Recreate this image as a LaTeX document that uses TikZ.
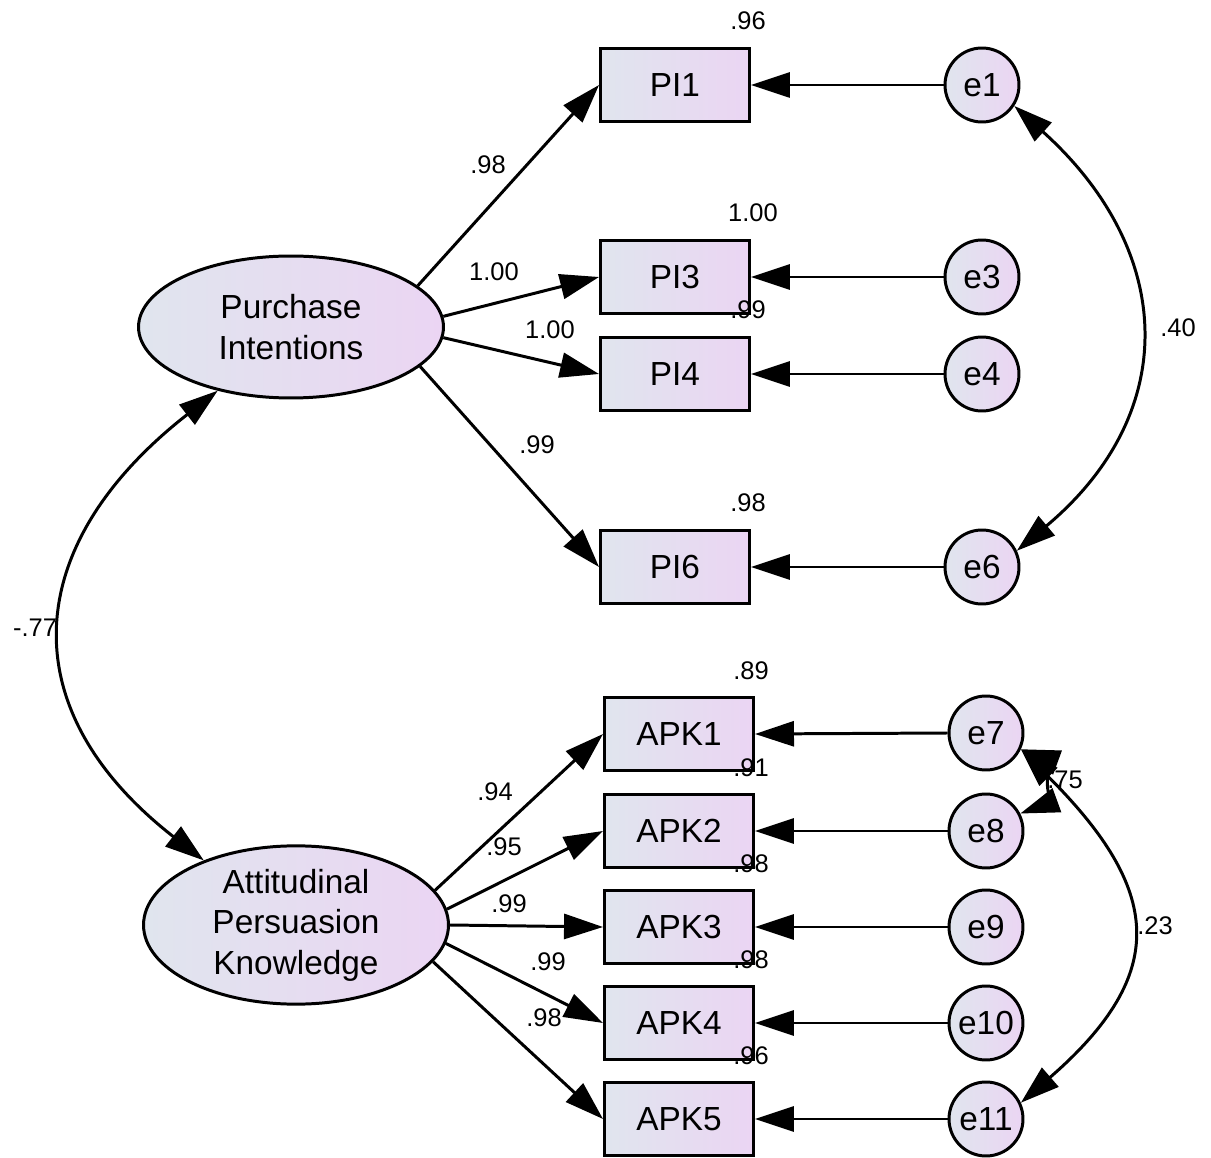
\documentclass[tikz,border=0pt]{standalone}
\usepackage{fontspec}
\setmainfont{Liberation Sans}
\usetikzlibrary{shapes.geometric,arrows.meta}

\definecolor{fillleft}{RGB}{224,229,238}
\definecolor{fillright}{RGB}{235,213,243}

\begin{document}
\begin{tikzpicture}[x=0.02cm, y=-0.02cm,
        latent/.style={draw, ellipse, line width=1.7pt, minimum width=6.1cm, minimum height=2.84cm, inner sep=0pt, align=center, left color=fillleft, right color=fillright, font=\fontsize{19}{23}\selectfont},
        observed/.style={draw, rectangle, line width=1.7pt, minimum width=2.98cm, minimum height=1.46cm, inner sep=0pt, left color=fillleft, right color=fillright, font=\fontsize{19}{23}\selectfont},
        error/.style={draw, circle, line width=1.7pt, minimum size=1.48cm, inner sep=0pt, left color=fillleft, right color=fillright, font=\fontsize{19}{23}\selectfont},
        path/.style={line width=1.7pt, -{Triangle[length=0.78cm, width=0.5cm]}},
        cov/.style={line width=1.7pt, {Triangle[length=0.78cm, width=0.5cm]}-{Triangle[length=0.78cm, width=0.5cm]}},
        est/.style={font=\fontsize{14.5}{17}\selectfont, inner sep=0pt}]

        \useasboundingbox (0,0) rectangle (1211,1158);

        % latent variables
        \node[latent] (PI) at (291,327) {Purchase\\Intentions};
        \node[latent] (APK) at (296,925) {Attitudinal\\Persuasion\\Knowledge};

        % indicators
        \node[observed] (PI1) at (675,85) {PI1};
        \node[observed] (PI3) at (675,277) {PI3};
        \node[observed] (PI4) at (675,374) {PI4};
        \node[observed] (PI6) at (675,567) {PI6};
        \node[observed] (APK1) at (679,734) {APK1};
        \node[observed] (APK2) at (679,831) {APK2};
        \node[observed] (APK3) at (679,927) {APK3};
        \node[observed] (APK4) at (679,1023) {APK4};
        \node[observed] (APK5) at (679,1119) {APK5};

        % error terms
        \node[error] (e1) at (982,85) {e1};
        \node[error] (e3) at (982,277) {e3};
        \node[error] (e4) at (982,374) {e4};
        \node[error] (e6) at (982,567) {e6};
        \node[error] (e7) at (986,733) {e7};
        \node[error] (e8) at (986,831) {e8};
        \node[error] (e9) at (986,927) {e9};
        \node[error] (e10) at (986,1023) {e10};
        \node[error] (e11) at (986,1119) {e11};

        % loadings
        \draw[path] (PI.18) -- (PI1.west);
        \draw[path] (PI.4) -- (PI3.west);
        \draw[path] (PI.-4) -- (PI4.west);
        \draw[path] (PI.-17) -- (PI6.west);
        \draw[path] (APK.14) -- (APK1.west);
        \draw[path] (APK.6) -- (APK2.west);
        \draw[path] (APK.0) -- (APK3.west);
        \draw[path] (APK.-7) -- (APK4.west);
        \draw[path] (APK.-15) -- (APK5.west);

        % errors
        \foreach \i in {1,3,4,6}
            \draw[path] (e\i.west) -- (PI\i.east);
        \draw[path] (e7.west) -- (APK1.east);
        \draw[path] (e8.west) -- (APK2.east);
        \draw[path] (e9.west) -- (APK3.east);
        \draw[path] (e10.west) -- (APK4.east);
        \draw[path] (e11.west) -- (APK5.east);

        % covariances
        \node[est] (c75) at (1065,780) {.75};
        \draw[cov] (PI.221) to[out=218, in=142, looseness=1.35] (APK.145);
        \draw[cov] (e1.-33) to[out=-42, in=40, looseness=1.24] (e6.25);
        \draw[cov] (e7.-25) to[out=-45, in=41, looseness=1.44] (e11.25);
        \draw[cov] (e7.-25) to[out=-20, in=20] (e8.27);
        \node[est] (c77) at (35,628) {-.77};
        \node[est] (c40) at (1178,328) {.40};
        \node[est] (c23) at (1155,926) {.23};

        % loading estimates
        \node[est] (l1) at (488,165) {.98};
        \node[est] (l3) at (494,272) {1.00};
        \node[est] (l4) at (550,330) {1.00};
        \node[est] (l6) at (537,445) {.99};
        \node[est] (k1) at (495,792) {.94};
        \node[est] (k2) at (504,847) {.95};
        \node[est] (k3) at (509,904) {.99};
        \node[est] (k4) at (548,962) {.99};
        \node[est] (k5) at (544,1018) {.98};

        % squared multiple correlations
        \node[est] (r1) at ([xshift=-0.06cm, yshift=0.52cm]PI1.north east) {.96};
        \node[est] (r3) at ([xshift=0.04cm, yshift=0.52cm]PI3.north east) {1.00};
        \node[est] (r4) at ([xshift=-0.06cm, yshift=0.52cm]PI4.north east) {.99};
        \node[est] (r6) at ([xshift=-0.06cm, yshift=0.52cm]PI6.north east) {.98};
        \node[est] (s1) at ([xshift=-0.08cm, yshift=0.5cm]APK1.north east) {.89};
        \node[est] (s2) at ([xshift=-0.08cm, yshift=0.5cm]APK2.north east) {.91};
        \node[est] (s3) at ([xshift=-0.08cm, yshift=0.5cm]APK3.north east) {.98};
        \node[est] (s4) at ([xshift=-0.08cm, yshift=0.5cm]APK4.north east) {.98};
        \node[est] (s5) at ([xshift=-0.08cm, yshift=0.5cm]APK5.north east) {.96};

\end{tikzpicture}
\end{document}
